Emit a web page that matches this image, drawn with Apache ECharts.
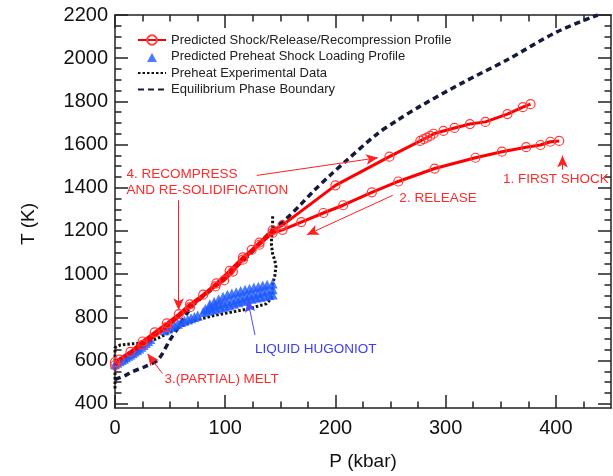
<!DOCTYPE html>
<html>
<head>
<meta charset="utf-8">
<script src="https://cdn.jsdelivr.net/npm/echarts@6/dist/echarts.min.js"></script>
<style>
html, body { margin: 0; padding: 0; background: #fff; }
#chart { width: 613px; height: 476px; }
</style>
</head>
<body>
<div id="chart"></div>
<script>
// 数据 (P kbar, T K)
var releasePath = [[403,1617],[395,1613],[386,1598],[373,1588],[351,1567],[327,1539],[290,1489],[257,1429],
    [233,1379],[207,1319],[189,1283],[169,1241],[152,1205],[143,1191],[131,1136],[116,1067],[107,1012],
    [99,971],[91,943],[68,847],[47,755],[25,672],[4,604],[0,578]];

var recompressPath = [[0,592],[14,640],[25,688],[36,730],[47,772],[58,815],[68,860],[80,905],[92,957],
    [104,1015],[116,1078],[124,1112],[131,1146],[143,1203],[152,1227],[200,1411],[249,1544],[277,1617],
    [280,1625],[283,1632],[286,1640],[289,1650],[298,1663],[308,1677],[322,1695],[336,1705],[356,1741],
    [370,1773],[377,1787]];

var preheatProfile = [[0,583],[2,590],[4,596],[6,602],[8,608],[10,615],[12,622],[14,628],[16,635],
    [18,642],[20,649],[22,656],[24,664],[26,672],[28,681],[30,690],[32,700],
    [45,740],[48,748],[51,755],[54,762],[57,770],[60,778],[63,784],[66,790],[69,796],[72,802],[75,808],
    [80,825],[84,830],[88,836],[92,840],[96,845],[100,850],[104,856],[108,863],[112,870],[116,876],
    [120,882],[124,886],[128,890],[132,894],[136,899],[140,903],[143,906],
    [86,860],[90,872],[94,884],[98,895],[102,904],[106,910],[110,916],[114,922],[118,928],[122,932],
    [126,938],[130,942],[134,947],[138,951],[143,957],
    [82,838],[86,846],[90,854],[94,860],[98,866],[102,872],[106,878],[110,884],[114,890],[118,896],
    [122,902],[126,906],[130,912],[134,918],[138,924],[143,930]];

var preheatData = [[0,470],[0,575],[0,660],[5,672],[15,677],[25,680],[32,688],[45,718],[59,757],[74,788],
    [90,808],[101,820],[115,833],[122,840],[130,852],[137,862],[142,888],[143,912],[143,952],[145,993],
    [146,1033],[145,1063],[143,1094],[142,1134],[142,1167],[143,1216],[143,1268]];

var phaseBoundary = [[0,512],[10,532],[16,549],[27,571],[39,604],[50,696],[56,742],[70,850],[90,940],
    [110,1035],[122,1090],[130,1136],[143,1205],[156,1260],[168,1320],[180,1384],[195,1457],[210,1526],
    [238,1650],[256,1712],[277,1778],[316,1888],[356,1993],[401,2122],[438,2200]];

var xMajor = [0, 100, 200, 300, 400];
var xMinor = [25, 50, 75, 125, 150, 175, 225, 250, 275, 325, 350, 375, 425];
var yMajor = [400, 600, 800, 1000, 1200, 1400, 1600, 1800, 2000, 2200];
var yMinor = [450, 500, 550, 650, 700, 750, 850, 900, 950, 1050, 1100, 1150, 1250, 1300, 1350,
    1450, 1500, 1550, 1650, 1700, 1750, 1850, 1900, 1950, 2050, 2100, 2150];

// 标注
var redArrows = [
    [[128.6,1457],[238.6,1539]],
    [[57.7,1342],[57.7,833]],
    [[252,1365],[174,1182]],
    [[406,1484],[406,1549]],
    [[43,540],[29.5,631]]
];
var blueArrows = [[[127,718],[120.5,879]]];
var notes = [
    {text: '4. RECOMPRESS\nAND RE-SOLIDIFICATION', at: [10.5,1425], color: '#ff2a2a'},
    {text: '2. RELEASE', at: [258,1351], color: '#ff2a2a'},
    {text: '1. FIRST SHOCK', at: [352,1439], color: '#ff2a2a'},
    {text: '3.(PARTIAL) MELT', at: [45,512], color: '#ff2a2a'},
    {text: 'LIQUID HUGONIOT', at: [127,654], color: '#3b3bff'}
];

var FONT = 'Liberation Sans, Arial, sans-serif';
var RED_NAME = 'Predicted Shock/Release/Recompression Profile';
var axisColor = '#222';

function plain(v) { return String(v); }

function xAxisOf(pos, ticks, len, main) {
    return {
        type: 'value', position: pos, min: 0, max: 450,
        axisLine: {show: main, onZero: false, lineStyle: {color: axisColor, width: 1.5}},
        axisTick: {show: true, inside: true, length: len, customValues: ticks, lineStyle: {color: axisColor, width: 1.5}},
        axisLabel: {show: main && pos === 'bottom', customValues: xMajor, margin: 10, formatter: plain,
            color: '#111', fontSize: 20, fontFamily: FONT},
        splitLine: {show: false},
        name: main && pos === 'bottom' ? 'P (kbar)' : '',
        nameLocation: 'middle', nameGap: 44,
        nameTextStyle: {color: '#111', fontSize: 19, fontFamily: FONT}
    };
}

function yAxisOf(pos, ticks, len, main) {
    return {
        type: 'value', position: pos, min: 380, max: 2200,
        axisLine: {show: main, onZero: false, lineStyle: {color: axisColor, width: 1.5}},
        axisTick: {show: true, inside: true, length: len, customValues: ticks, lineStyle: {color: axisColor, width: 1.5}},
        axisLabel: {show: main && pos === 'left', customValues: yMajor, margin: 7, formatter: plain,
            color: '#111', fontSize: 20, fontFamily: FONT},
        splitLine: {show: false}
    };
}

function arrowLines(list) {
    return list.map(function (a) {
        return [{coord: a[0]}, {coord: a[1]}];
    });
}

var chart = echarts.init(document.getElementById('chart'));

var option = {
    animation: false,
    backgroundColor: '#fff',
    grid: {left: 115, right: 2, top: 15, bottom: 64},
    legend: {
        orient: 'vertical', left: 137, top: 33.5, padding: 0,
        itemWidth: 28, itemHeight: 12, itemGap: 3.5,
        textStyle: {fontSize: 13, color: '#222', fontFamily: FONT},
        data: [
            RED_NAME,
            {name: 'Predicted Preheat Shock Loading Profile',
                icon: 'path://M0,0L0,0.01M28,12L28,11.99M9,11.5L14,2.5L19,11.5Z'},
            {name: 'Preheat Experimental Data', itemStyle: {opacity: 0}},
            {name: 'Equilibrium Phase Boundary', itemStyle: {opacity: 0}}
        ]
    },
    xAxis: [
        xAxisOf('bottom', xMajor, 13, true),
        xAxisOf('bottom', xMinor, 6.5, false),
        xAxisOf('top', xMajor, 13, true),
        xAxisOf('top', xMinor, 6.5, false)
    ],
    yAxis: [
        yAxisOf('left', yMajor, 13, true),
        yAxisOf('left', yMinor, 6.5, false),
        yAxisOf('right', yMajor, 13, true),
        yAxisOf('right', yMinor, 6.5, false)
    ],
    graphic: [{
        type: 'text', x: 29, y: 224, rotation: Math.PI / 2,
        style: {text: 'T (K)', fill: '#111', fontSize: 19, fontFamily: FONT, align: 'center', verticalAlign: 'middle'}
    }],
    series: [
        {
            name: 'Equilibrium Phase Boundary', type: 'line', data: phaseBoundary,
            symbol: 'none', z: 2, smooth: 0.3,
            itemStyle: {color: '#151a3a'},
            lineStyle: {color: '#151a3a', width: 3.5, type: [6, 4]}
        },
        {
            name: 'Preheat Experimental Data', type: 'line', data: preheatData,
            symbol: 'none', z: 3,
            itemStyle: {color: '#111'},
            lineStyle: {color: '#111', width: 3, type: [2.5, 2]}
        },
        {
            name: 'Predicted Preheat Shock Loading Profile', type: 'scatter', data: preheatProfile,
            symbol: 'triangle', symbolSize: 10, z: 4,
            itemStyle: {color: '#1f5aff'},
            markLine: {
                silent: true, symbol: ['none', 'arrow'], symbolSize: [8, 12],
                label: {show: false},
                lineStyle: {color: '#4a4aff', width: 1, type: 'solid'},
                data: arrowLines(blueArrows)
            }
        },
        {
            name: RED_NAME, type: 'line', data: releasePath,
            symbol: 'circle', symbolSize: 9, z: 5,
            lineStyle: {color: '#ff0000', width: 3},
            itemStyle: {color: 'rgba(255,0,0,0)', borderColor: '#ff3b3b', borderWidth: 1.2},
            markLine: {
                silent: true, symbol: ['none', 'arrow'], symbolSize: [8, 12],
                label: {show: false},
                lineStyle: {color: '#ff2020', width: 1, type: 'solid'},
                data: arrowLines(redArrows)
            }
        },
        {
            name: RED_NAME, type: 'line', data: recompressPath,
            symbol: 'circle', symbolSize: 9, z: 5,
            lineStyle: {color: '#ff0000', width: 3},
            itemStyle: {color: 'rgba(255,0,0,0)', borderColor: '#ff3b3b', borderWidth: 1.2}
        }
    ]
};

chart.setOption(option);

// 文字标注
chart.setOption({
    graphic: option.graphic.concat(notes.map(function (n) {
        var p = chart.convertToPixel({gridIndex: 0}, n.at);
        return {
            type: 'text', x: p[0], y: p[1], z: 10,
            style: {
                text: n.text, fill: n.color, fontSize: 13.5, fontFamily: FONT,
                lineHeight: 16, align: 'left', verticalAlign: 'middle'
            }
        };
    }))
});
</script>
</body>
</html>
